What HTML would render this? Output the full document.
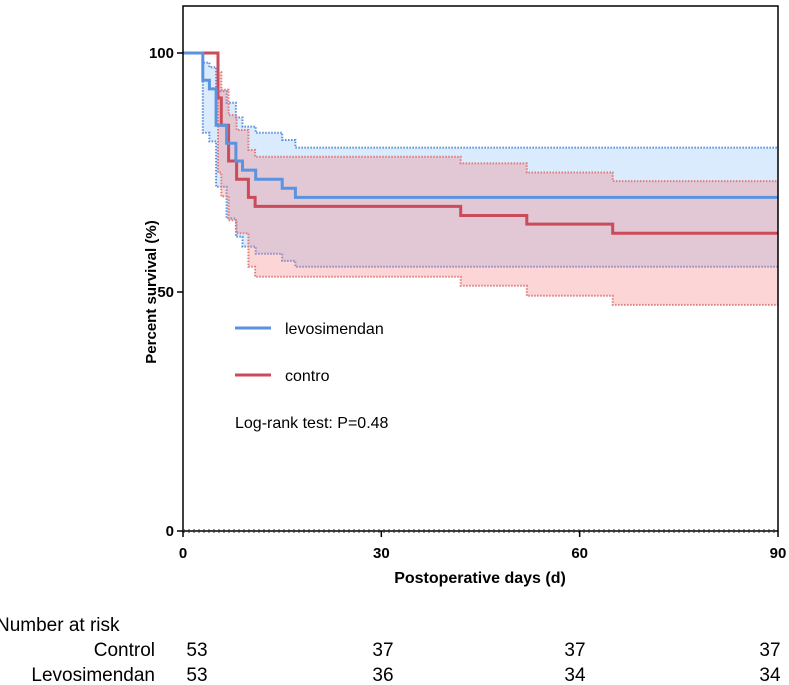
<!DOCTYPE html>
<html><head><meta charset="utf-8"><style>
body{margin:0;background:#fff;font-family:"Liberation Sans",Arial,sans-serif}
svg{display:block}
</style></head><body>
<svg id="chart" width="789" height="685" viewBox="0 0 789 685">
<g id="plot"></g>
<text x="480" y="583" text-anchor="middle" font-size="16" font-weight="bold">Postoperative days (d)</text>
<text transform="translate(156,292) rotate(-90)" text-anchor="middle" font-size="15" font-weight="bold">Percent survival (%)</text>
<g>
<line x1="235" y1="328" x2="271" y2="328" stroke="#5b93e0" stroke-width="3"/>
<text x="285" y="334" font-size="16">levosimendan</text>
<line x1="235" y1="375" x2="271" y2="375" stroke="#cc4b5a" stroke-width="3"/>
<text x="285" y="381" font-size="16">contro</text>
<text x="235" y="428" font-size="16">Log-rank test: P=0.48</text>
</g>
<text x="-4" y="631" font-size="19">Number at risk</text>
<text x="155" y="656" text-anchor="end" font-size="19">Control</text>
<text x="155" y="681" text-anchor="end" font-size="19">Levosimendan</text>
</svg>
<script>
const days=[0,30,60,90];
const yTicks=[0,50,100];
const blueT=[0,3,4,5,6.6,8,9,11,15,17,90];
const blueS=[100,94.3,92.5,84.9,81.1,77.4,75.5,73.6,71.7,69.8,69.8];
const blueU=[100,98,97,92,89.6,86.5,84.6,83.3,81.8,80.2,80.2];
const blueL=[100,83.3,81.5,72,65.4,61.6,59.5,58,56.5,55.3,55.3];
const redT=[0,5.3,5.8,6.9,8.1,9.9,10.9,42,52,65,90];
const redS=[100,90.6,84.9,77.4,73.6,69.8,67.9,66.0,64.2,62.3,62.3];
const redU=[100,96,92.3,87,83.9,79.7,78.3,76.9,75.0,73.2,73.2];
const redL=[100,75,70,65,62.3,55.3,53.2,51.3,49.2,47.3,47.3];
const riskControl=[53,37,37,37];
const riskLevo=[53,36,34,34];
const X0=183,X1=778,Y0=531,Y100=53;
const sx=d=>X0+(X1-X0)*d/90;
const sy=v=>Y0-(Y0-Y100)*v/100;
const NS="http://www.w3.org/2000/svg";
const g=document.getElementById('plot');
function mk(t,a,p){const e=document.createElementNS(NS,t);for(const k in a)e.setAttribute(k,a[k]);(p||g).appendChild(e);return e;}
function stepPts(T,S){let p=[];for(let i=0;i<T.length;i++){if(i>0)p.push([sx(T[i]),sy(S[i-1])]);p.push([sx(T[i]),sy(S[i])]);}return p;}
function ptsStr(p){return p.map(q=>q[0].toFixed(1)+','+q[1].toFixed(1)).join(' ');}
function band(T,U,L,fill,stroke,name){
  const up=stepPts(T,U),lo=stepPts(T,L).reverse();
  const a=mk('polygon',{points:ptsStr(up.concat(lo)),fill:fill,stroke:'none'});
  
  
  const b=mk('polyline',{points:ptsStr(up),fill:'none',stroke:stroke,'stroke-width':2,'stroke-dasharray':'1.5 1.5'});
  
  
  const c=mk('polyline',{points:ptsStr(stepPts(T,L)),fill:'none',stroke:stroke,'stroke-width':2,'stroke-dasharray':'1.5 1.5'});
  
  
}
band(blueT,blueU,blueL,'rgba(140,195,245,0.33)','#5b8fdc','levosimendan');
band(redT,redU,redL,'rgba(245,130,130,0.33)','#e07a7a','control');
const rl=mk('polyline',{points:ptsStr(stepPts(redT,redS)),fill:'none',stroke:'#cc4b5a','stroke-width':3});


const bl=mk('polyline',{points:ptsStr(stepPts(blueT,blueS)),fill:'none',stroke:'#5b93e0','stroke-width':3});


const fr=mk('rect',{x:X0,y:6,width:X1-X0,height:Y0-6,fill:'none',stroke:'#000','stroke-width':1.5});


const z=mk('line',{x1:X0,y1:Y0,x2:X1,y2:Y0,stroke:'#333','stroke-width':3,'stroke-dasharray':'2 3'});


yTicks.forEach(v=>{
  mk('line',{x1:X0-6,y1:sy(v),x2:X0,y2:sy(v),stroke:'#000','stroke-width':1.5});
  const t=mk('text',{x:X0-9,y:sy(v)+5,'text-anchor':'end','font-size':15,'font-weight':'bold'});
  t.textContent=v;
  
  
});
days.forEach(d=>{
  mk('line',{x1:sx(d),y1:Y0,x2:sx(d),y2:Y0+6,stroke:'#000','stroke-width':1.5});
  const t=mk('text',{x:sx(d),y:Y0+27,'text-anchor':'middle','font-size':15,'font-weight':'bold'});
  t.textContent=d;
  
  
});
const colX=[197,383,575,770];
function riskRow(vals,y,name){
  vals.forEach((v,i)=>{
    const t=mk('text',{x:colX[i],y:y,'text-anchor':'middle','font-size':19});
    t.textContent=v;
    
    
  });
}
riskRow(riskControl,656,'control');
riskRow(riskLevo,681,'levosimendan');
</script>
</body></html>
